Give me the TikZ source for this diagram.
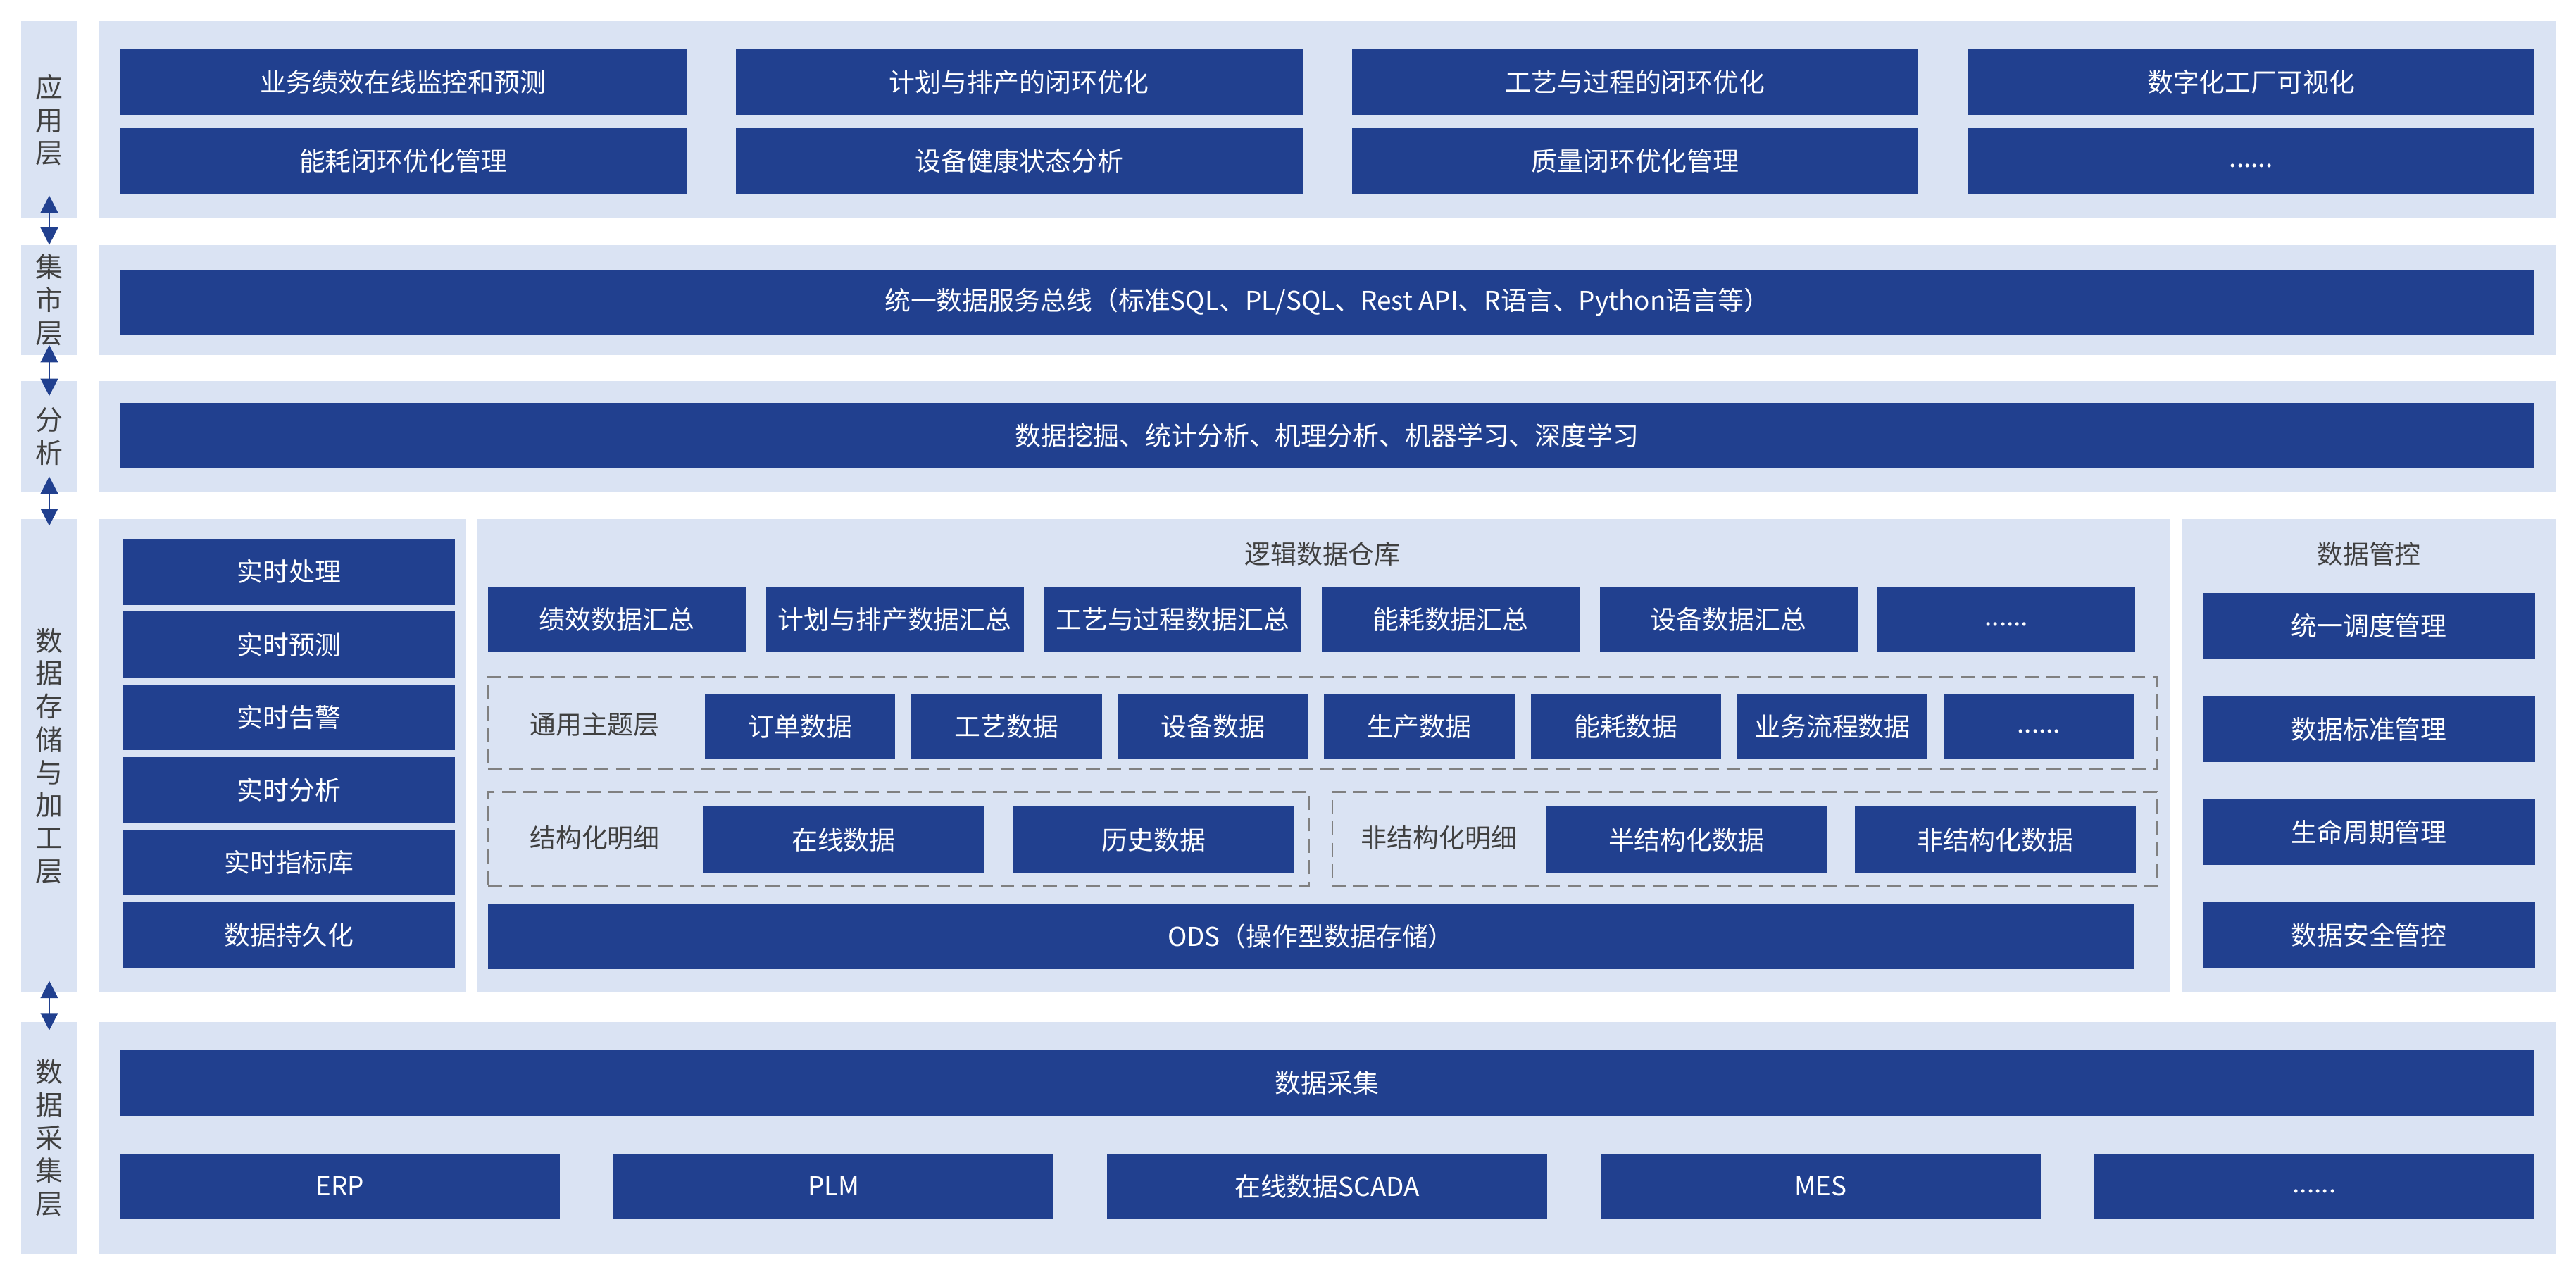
\documentclass[tikz,border=0pt]{standalone}
\usepackage{fontspec}
\setmainfont{Noto Sans CJK SC}
\usepackage{tikz}
\usetikzlibrary{positioning}
\usetikzlibrary{arrows.meta}

\definecolor{boxblue}{HTML}{21408F}
\definecolor{panelblue}{HTML}{DAE3F3}
\definecolor{labelgray}{HTML}{404040}
\definecolor{dashgray}{HTML}{808080}

\begin{document}
\begin{tikzpicture}[x=0.02cm, y=-0.02cm, inner sep=0pt, outer sep=0pt, font=\fontsize{9}{11}\selectfont]
\tikzstyle{panel} = [rectangle, fill=panelblue, anchor=north west]
\tikzstyle{layerlbl} = [panel, text=labelgray, align=center, minimum width=0.68cm, font=\fontsize{9.5}{11.4}\selectfont]
\tikzstyle{block} = [rectangle, fill=boxblue, text=white, minimum height=0.8cm]
\tikzstyle{heading} = [text=labelgray]
\tikzstyle{dashgroup} = [rectangle, draw=dashgray, line width=0.6pt, dash pattern=on 0.17cm off 0.09cm, anchor=north west]
\tikzstyle{arrow} = [line width=0.6pt, draw=boxblue, {Triangle[width=0.21cm,length=0.21cm]}-{Triangle[width=0.21cm,length=0.21cm]}]
\tikzstyle{appbox} = [block, minimum width=6.9cm]
\tikzstyle{rtbox} = [block, minimum width=4.04cm]
\tikzstyle{sumbox} = [block, minimum width=3.14cm]
\tikzstyle{topicbox} = [block, minimum width=2.32cm]
\tikzstyle{detbox} = [block, minimum width=3.42cm]
\tikzstyle{govbox} = [block, minimum width=4.04cm]
\tikzstyle{srcbox} = [block, minimum width=5.36cm]

\useasboundingbox (0,0) rectangle (1568,781);

% layer labels and panels
\node (lyApp) [layerlbl, minimum height=2.4cm] at (13,13) {应\\用\\层};
\node (pnApp) [panel, minimum width=29.92cm, minimum height=2.4cm] at (60,13) {};
\node (lyMart) [layerlbl, minimum height=1.34cm] at (13,149) {集\\市\\层};
\node (pnMart) [panel, minimum width=29.92cm, minimum height=1.34cm] at (60,149) {};
\node (lyAna) [layerlbl, minimum height=1.34cm] at (13,232) {分\\析};
\node (pnAna) [panel, minimum width=29.92cm, minimum height=1.34cm] at (60,232) {};
\node (lyStore) [layerlbl, minimum height=5.76cm] at (13,316) {数\\据\\存\\储\\与\\加\\工\\层};
\node (pnRt) [panel, minimum width=4.48cm, minimum height=5.76cm] at (60,316) {};
\node (pnDw) [panel, minimum width=20.62cm, minimum height=5.76cm] at (290,316) {};
\node (pnGov) [panel, minimum width=4.56cm, minimum height=5.76cm] at (1328,316) {};
\node (lyCollect) [layerlbl, minimum height=2.82cm] at (13,622) {数\\据\\采\\集\\层};
\node (pnCollect) [panel, minimum width=29.92cm, minimum height=2.82cm] at (60,622) {};

% application layer
\node (app1) [appbox, anchor=north west] at (73,30) {业务绩效在线监控和预测};
\node (app2) [appbox, right=0.6cm of app1] {计划与排产的闭环优化};
\node (app3) [appbox, right=0.6cm of app2] {工艺与过程的闭环优化};
\node (app4) [appbox, right=0.6cm of app3] {数字化工厂可视化};
\node (app5) [appbox, anchor=north west] at (73,78) {能耗闭环优化管理};
\node (app6) [appbox, right=0.6cm of app5] {设备健康状态分析};
\node (app7) [appbox, right=0.6cm of app6] {质量闭环优化管理};
\node (app8) [appbox, right=0.6cm of app7] {\strut......};

% mart and analysis
\node (bus) [block, minimum width=29.4cm, anchor=north west] at (73,164) {统一数据服务总线（标准SQL、PL/SQL、Rest API、R语言、Python语言等）};
\node (mining) [block, minimum width=29.4cm, anchor=north west] at (73,245) {数据挖掘、统计分析、机理分析、机器学习、深度学习};

% real time column
\node (rt1) [rtbox, anchor=north west] at (75,328) {实时处理};
\node (rt2) [rtbox, below=0.085cm of rt1] {实时预测};
\node (rt3) [rtbox, below=0.085cm of rt2] {实时告警};
\node (rt4) [rtbox, below=0.085cm of rt3] {实时分析};
\node (rt5) [rtbox, below=0.085cm of rt4] {实时指标库};
\node (rt6) [rtbox, below=0.085cm of rt5] {数据持久化};

% logical data warehouse
\node (dwTitle) [heading] at (805,337) {逻辑数据仓库};
\node (sum1) [sumbox, anchor=north west] at (297,357) {绩效数据汇总};
\node (sum2) [sumbox, right=0.244cm of sum1] {计划与排产数据汇总};
\node (sum3) [sumbox, right=0.244cm of sum2] {工艺与过程数据汇总};
\node (sum4) [sumbox, right=0.244cm of sum3] {能耗数据汇总};
\node (sum5) [sumbox, right=0.244cm of sum4] {设备数据汇总};
\node (sum6) [sumbox, right=0.244cm of sum5] {\strut......};

\node (grpTopic) [dashgroup, minimum width=20.32cm, minimum height=1.12cm] at (297,412) {};
\node (topicLbl) [heading] at (362,441) {通用主题层};
\node (tp1) [topicbox, anchor=north west] at (429,422) {订单数据};
\node (tp2) [topicbox, right=0.194cm of tp1] {工艺数据};
\node (tp3) [topicbox, right=0.194cm of tp2] {设备数据};
\node (tp4) [topicbox, right=0.194cm of tp3] {生产数据};
\node (tp5) [topicbox, right=0.194cm of tp4] {能耗数据};
\node (tp6) [topicbox, right=0.194cm of tp5] {业务流程数据};
\node (tp7) [topicbox, right=0.194cm of tp6] {\strut......};

\node (grpStruct) [dashgroup, minimum width=10cm, minimum height=1.14cm] at (297,482) {};
\node (structLbl) [heading] at (362,510) {结构化明细};
\node (det1) [detbox, anchor=north west] at (428,491) {在线数据};
\node (det2) [detbox, right=0.36cm of det1] {历史数据};
\node (grpUnstruct) [dashgroup, minimum width=10.04cm, minimum height=1.14cm] at (811,482) {};
\node (unstructLbl) [heading] at (876,510) {非结构化明细};
\node (det3) [detbox, anchor=north west] at (941,491) {半结构化数据};
\node (det4) [detbox, right=0.34cm of det3] {非结构化数据};

\node (ods) [block, minimum width=20.04cm, anchor=north west] at (297,550) {ODS（操作型数据存储）};

% data governance
\node (govTitle) [heading] at (1442,337) {数据管控};
\node (gov1) [govbox, anchor=north west] at (1341,361) {统一调度管理};
\node (gov2) [govbox, below=0.454cm of gov1] {数据标准管理};
\node (gov3) [govbox, below=0.454cm of gov2] {生命周期管理};
\node (gov4) [govbox, below=0.454cm of gov3] {数据安全管控};

% data collection
\node (collect) [block, minimum width=29.4cm, anchor=north west] at (73,639) {数据采集};
\node (src1) [srcbox, anchor=north west] at (73,702) {ERP};
\node (src2) [srcbox, right=0.65cm of src1] {PLM};
\node (src3) [srcbox, right=0.65cm of src2] {在线数据SCADA};
\node (src4) [srcbox, right=0.65cm of src3] {MES};
\node (src5) [srcbox, right=0.65cm of src4] {\strut......};

% arrows between layers
\draw [arrow] ([yshift=0.28cm]lyApp.south) -- (lyMart.north);
\draw [arrow] ([yshift=0.12cm]lyMart.south) -- ([yshift=-0.18cm]lyAna.north);
\draw [arrow] ([yshift=0.18cm]lyAna.south) -- ([yshift=-0.08cm]lyStore.north);
\draw [arrow] ([yshift=0.14cm]lyStore.south) -- ([yshift=-0.1cm]lyCollect.north);
\end{tikzpicture}
\end{document}
